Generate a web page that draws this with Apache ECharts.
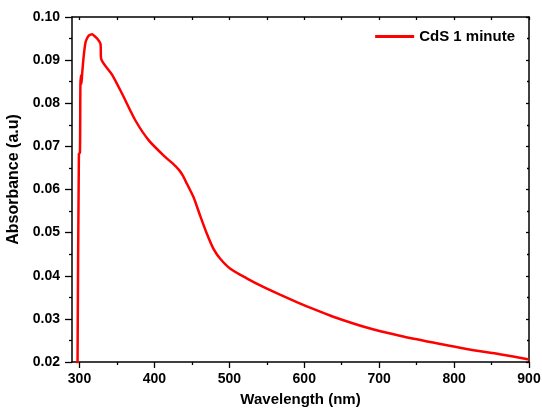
<!DOCTYPE html>
<html>
<head>
<meta charset="utf-8">
<script src="https://cdn.jsdelivr.net/npm/echarts@6/dist/echarts.min.js"></script>
<style>
  html, body { margin: 0; padding: 0; background: #fff; }
  #chart { width: 542px; height: 408px; }
</style>
</head>
<body>
<div id="chart"></div>
<script>
// 紫外-可见吸收光谱 CdS 1 minute
var wavelength = [297.4, 299.2, 300.6, 301.2, 302.0, 302.6, 303.6, 305.9, 308.0, 310.0, 312.5, 316.9, 320.0, 323.6, 328.0, 328.9,
    343.6, 356.9, 374.7, 392.5, 414.7, 424.0, 433.0, 438.0, 443.2, 452.0, 460.9, 469.9, 478.7, 487.6, 500.9, 523.2, 545.3, 567.6,
    590.0, 612.0, 638.7, 683.2, 727.6, 772.0, 816.5, 860.9, 900.0];
var absorbance = [0.0195, 0.0683, 0.0685, 0.0840, 0.0865, 0.0845, 0.0870, 0.0914, 0.0941, 0.0950, 0.0957, 0.0960, 0.0956, 0.0950, 0.0938, 0.0903,
    0.0866, 0.0822, 0.0760, 0.0714, 0.0675, 0.0661, 0.0645, 0.0632, 0.0614, 0.0583, 0.0540, 0.0498, 0.0463, 0.0440, 0.0417, 0.0394, 0.0374, 0.0356,
    0.0339, 0.0323, 0.0305, 0.0280, 0.0261, 0.0245, 0.0230, 0.0218, 0.0206];
var xMajor = [300, 400, 500, 600, 700, 800, 900];
var xMinor = [350, 450, 550, 650, 750, 850];
var seriesName = 'CdS 1 minute';

var chart = echarts.init(document.getElementById('chart'));
var font = 'Liberation Sans';
var black = '#000';

var points = [];
for (var i = 0; i < wavelength.length; i++) {
    points.push([wavelength[i], absorbance[i]]);
}

// x 轴：下方主刻度/次刻度，上方内向刻度
function xAxisOf(pos, ticks, len, inside, withLabel, withLine) {
    return {
        type: 'value', position: pos, min: 290, max: 900,
        axisLine: { show: withLine, onZero: false, lineStyle: { color: black, width: 1.5 } },
        axisTick: { show: true, inside: inside, length: len, customValues: ticks, lineStyle: { color: black, width: 1.3 } },
        axisLabel: withLabel ? {
            show: true, customValues: ticks, margin: 10, color: black,
            fontSize: 14, fontWeight: 'bold', fontFamily: font
        } : { show: false },
        splitLine: { show: false }
    };
}

var option = {
    animation: false,
    grid: { left: 72, top: 17, right: 13, bottom: 46, containLabel: false, outerBoundsMode: 'none' },
    legend: {
        right: 22, top: 24, itemWidth: 39, itemHeight: 14, itemGap: 5,
        textStyle: { color: black, fontSize: 15, fontWeight: 'bold', fontFamily: font },
        data: [{ name: seriesName, icon: 'path://M0,6H40V9H0Z' }]
    },
    xAxis: [
        Object.assign(xAxisOf('bottom', xMajor, 6, false, true, true), {
            name: 'Wavelength (nm)', nameLocation: 'middle', nameGap: 30,
            nameTextStyle: { color: black, fontSize: 15, fontWeight: 'bold', fontFamily: font }
        }),
        xAxisOf('bottom', xMinor, 3, false, false, false),
        xAxisOf('top', xMajor.concat(xMinor), 3, true, false, true)
    ],
    yAxis: [
        {
            type: 'value', position: 'left', min: 0.02, max: 0.10, interval: 0.01,
            name: 'Absorbance (a.u)', nameLocation: 'middle', nameGap: 45,
            nameTextStyle: { color: black, fontSize: 16, fontWeight: 'bold', fontFamily: font, padding: [0, 0, 0, 20] },
            axisLine: { show: true, lineStyle: { color: black, width: 1.5 } },
            axisTick: { show: true, inside: false, length: 7, lineStyle: { color: black, width: 1.3 } },
            minorTick: { show: true, splitNumber: 2, length: 3, lineStyle: { color: black, width: 1.3 } },
            axisLabel: {
                margin: 12, color: black, fontSize: 14, fontWeight: 'bold', fontFamily: font,
                formatter: function (v) { return v.toFixed(2); }
            },
            splitLine: { show: false }
        },
        {
            type: 'value', position: 'right', min: 0.02, max: 0.10, interval: 0.01,
            axisLine: { show: true, lineStyle: { color: black, width: 1.5 } },
            axisTick: { show: true, inside: true, length: 3, lineStyle: { color: black, width: 1.3 } },
            minorTick: { show: true, splitNumber: 2, length: 2, lineStyle: { color: black, width: 1.3 } },
            axisLabel: { show: false },
            splitLine: { show: false }
        }
    ],
    series: [
        {
            name: seriesName, type: 'line', data: points,
            xAxisIndex: 0, yAxisIndex: 0,
            symbol: 'none', clip: true,
            smooth: 0.25,
            lineStyle: { color: '#ff0000', width: 2.5 },
            itemStyle: { color: '#ff0000' }
        }
    ]
};
chart.setOption(option);
</script>
</body>
</html>
